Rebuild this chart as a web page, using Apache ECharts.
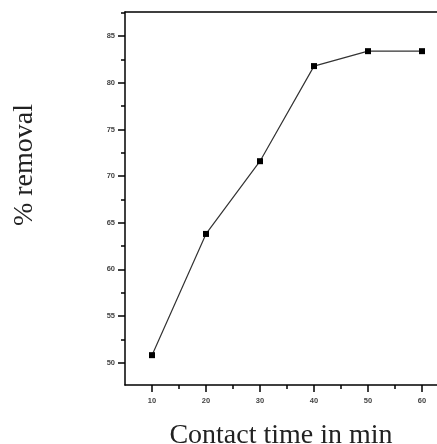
<!DOCTYPE html>
<html>
<head>
<meta charset="utf-8">
<script src="https://cdn.jsdelivr.net/npm/echarts@6/dist/echarts.min.js"></script>
<style>
  html, body { margin: 0; padding: 0; background: #fff; }
  #main { width: 437px; height: 444px; }
</style>
</head>
<body>
<div id="main"></div>
<script>
// contact time (min) and % removal
var times = [10, 20, 30, 40, 50, 60];
var removal = [50.8, 63.8, 71.6, 81.8, 83.4, 83.4];
var xTicks = [10, 20, 30, 40, 50, 60];
var xMinor = [15, 25, 35, 45, 55];
var yTicks = [50, 55, 60, 65, 70, 75, 80, 85];
var yMinor = [52.5, 57.5, 62.5, 67.5, 72.5, 77.5, 82.5, 87.5];

var chart = echarts.init(document.getElementById("main"));

var labelStyle = {
  fontFamily: "Liberation Sans",
  fontSize: 7.5,
  fontWeight: "bold",
  color: "#444",
};
var blackLine = { color: "#000", width: 1.5 };

var option = {
  animation: false,
  grid: {
    left: 125,
    top: 12,
    right: -12,
    bottom: 59,
    outerBoundsMode: "none",
    containLabel: false,
  },
  xAxis: [
    {
      type: "value",
      min: 5,
      max: 65,
      splitLine: { show: false },
      axisLine: { lineStyle: blackLine },
      axisTick: { customValues: xTicks, length: 7, lineStyle: blackLine },
      axisLabel: Object.assign({ customValues: xTicks, margin: 12 }, labelStyle),
      name: "Contact time in min",
      nameLocation: "middle",
      nameGap: 37,
      nameTextStyle: { fontFamily: "Liberation Serif", fontSize: 28, color: "#222", padding: [0, 0, 0, -12] },
    },
    {
      type: "value",
      position: "bottom",
      min: 5,
      max: 65,
      splitLine: { show: false },
      axisLine: { show: false },
      axisTick: { customValues: xMinor, length: 4, lineStyle: blackLine },
      axisLabel: { show: false },
    },
    {
      // top frame line
      type: "value",
      position: "top",
      min: 5,
      max: 65,
      splitLine: { show: false },
      axisLine: { show: true, lineStyle: blackLine },
      axisTick: { show: false },
      axisLabel: { show: false },
    },
  ],
  yAxis: [
    {
      type: "value",
      min: 47.6,
      max: 87.6,
      splitLine: { show: false },
      axisLine: { show: true, lineStyle: blackLine },
      axisTick: { show: true, customValues: yTicks, length: 7, lineStyle: blackLine },
      axisLabel: Object.assign({ customValues: yTicks, margin: 10 }, labelStyle),
      name: "% removal",
      nameLocation: "middle",
      nameRotate: 90,
      nameGap: 86,
      nameTextStyle: { fontFamily: "Liberation Serif", fontSize: 28, color: "#222", padding: [0, 0, 0, 67] },
    },
    {
      type: "value",
      position: "left",
      min: 47.6,
      max: 87.6,
      splitLine: { show: false },
      axisLine: { show: false },
      axisTick: { show: true, customValues: yMinor, length: 4, lineStyle: blackLine },
      axisLabel: { show: false },
    },
  ],
  series: [
    {
      type: "line",
      data: times.map(function (t, i) { return [t, removal[i]]; }),
      symbol: "rect",
      symbolSize: 6,
      itemStyle: { color: "#000" },
      lineStyle: { color: "#333", width: 1.2 },
    },
  ],
};

option && chart.setOption(option);
</script>
</body>
</html>
